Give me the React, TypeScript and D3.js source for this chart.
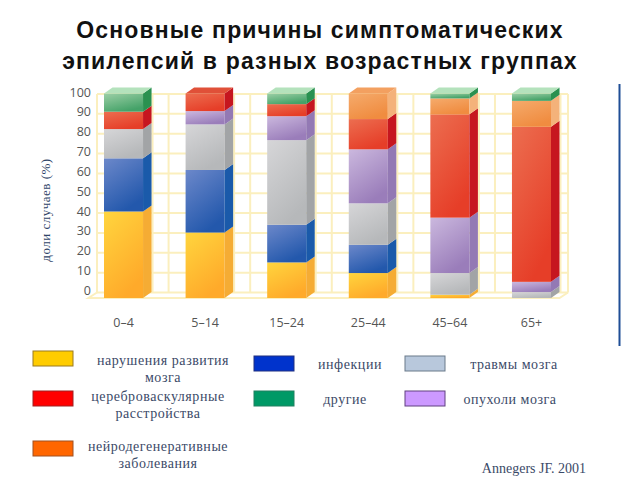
import * as d3 from 'd3'

const ageGroups = ['0–4', '5–14', '15–24', '25–44', '45–64', '65+']
const ticks = [0, 10, 20, 30, 40, 50, 60, 70, 80, 90, 100]

// share of cases per age group, bottom to top of each stack
const malformation = [42.3, 32, 17.4, 12.2, 1.6, 0]
const infection = [26, 30.6, 18.4, 13.8, 0, 0]
const trauma = [14.3, 22.3, 41.4, 20.3, 10.6, 2.9]
const tumor = [0, 6.5, 11.7, 26.4, 27.1, 5]
const vascular = [8.5, 8.6, 5.9, 14.8, 50.5, 75.8]
const degenerative = [0, 0, 0, 12.5, 7.8, 12.7]
const other = [8.9, 0, 5.2, 0, 2.4, 3.6]

const seriesKeys = ['malformation', 'infection', 'trauma', 'tumor', 'vascular', 'degenerative', 'other']
const seriesValues: Record<string, number[]> = { malformation, infection, trauma, tumor, vascular, degenerative, other }

const faceColors: Record<string, [string, string, string, string]> = {
  // front light, front dark, side, top
  malformation: ['#ffd53e', '#ffaa2a', '#f5ac34', '#ffcf50'],
  infection: ['#6c88ca', '#2358ac', '#1a5aaa', '#5c7cc0'],
  trauma: ['#d6d6d8', '#b6b8ba', '#a2a4a6', '#dcdcdc'],
  tumor: ['#cbb8de', '#9a7dba', '#9379b4', '#cdbbe0'],
  vascular: ['#ec6e50', '#e63e28', '#c6161f', '#e05038'],
  degenerative: ['#f5ab6c', '#f08c40', '#f4b27a', '#f3a060'],
  other: ['#9ccfa6', '#44a268', '#2a9150', '#b4e2bc'],
}

const legendLabels = [
  ['нарушения развития', 'мозга'],
  ['цереброваскулярные', 'расстройства'],
  ['нейродегенеративные', 'заболевания'],
  ['инфекции'],
  ['другие'],
  ['травмы мозга'],
  ['опухоли мозга'],
]
const legendColors = ['#ffcc00', '#ff0000', '#ff6600', '#0033cc', '#009966', '#b8c8dc', '#cc99ff']
const legendBorders = ['#9a7b20', '#a02020', '#a05020', '#203080', '#208060', '#6a7a8a', '#604080']
const legendBox = [[33, 351], [33, 391], [33, 441], [254, 356], [254, 391], [405, 356], [405, 391]]
const legendText = [[163, 365], [158, 401], [158, 451], [350, 369], [345, 404], [514, 369], [510, 404]]

const dx = 8.5
const dy = 6

export default function App() {
  const x = d3.scaleBand().domain(ageGroups).range([104, 551]).paddingInner(0.5215).paddingOuter(0)
  const y = d3.scaleLinear().domain([0, 100]).range([298, 93.5])
  const yGrid = d3.scaleLinear().domain([0, 100]).range([292.5, 94])

  const rows = ageGroups.map((g, i) => {
    const row: Record<string, any> = { group: g }
    seriesKeys.forEach(k => { row[k] = seriesValues[k][i] })
    return row
  })
  const stacked = d3.stack<any>().keys(seriesKeys)(rows)

  const bw = x.bandwidth()
  const gridLeft = 97
  const gridRight = 568
  const verticals = [gridLeft, gridRight]
  ageGroups.forEach((g, i) => {
    verticals.push(x(g)! + bw + dx + 1)
    if (i > 0) verticals.push(x(g)! - 17)
  })

  return (
    <svg width={640} height={480} style={{ position: 'absolute', left: 0, top: 0, background: '#fff' }}>
      <defs>
        {seriesKeys.map(k => (
          <linearGradient key={k} id={`front-${k}`} x1="0" y1="0" x2="0.5" y2="1">
            <stop offset="0" stopColor={faceColors[k][0]} />
            <stop offset="1" stopColor={faceColors[k][1]} />
          </linearGradient>
        ))}
      </defs>

      <g fontFamily="Liberation Sans" fontWeight="bold" fontSize={23} fill="#111" textAnchor="middle" letterSpacing={1.15}>
        <text x={320} y={38}>Основные причины симптоматических</text>
        <text x={320} y={69}>эпилепсий в разных возрастных группах</text>
      </g>

      {/* back wall */}
      <g stroke="#fbefbe" strokeWidth={2} fill="none">
        {ticks.map(t => (
          <line key={t} x1={gridLeft} x2={gridRight} y1={yGrid(t)} y2={yGrid(t)} />
        ))}
        {verticals.map(v => (
          <line key={v} x1={v} x2={v} y1={yGrid(100)} y2={yGrid(0)} />
        ))}
        <path d={`M${gridLeft},${yGrid(0)}L${gridLeft - dx},${y(0)}H${gridRight - dx}L${gridRight},${yGrid(0)}`} />
      </g>

      <g fontFamily="Open Sans" fontSize={12.5} fill="#555" textAnchor="end">
        {ticks.map(t => (
          <text key={t} x={91} y={yGrid(t) + 2.5}>{t}</text>
        ))}
      </g>

      {/* bars */}
      {ageGroups.map((g, i) => {
        const bx = x(g)!
        const layers = stacked.filter(s => s[i][1] > s[i][0])
        const top = layers[layers.length - 1]
        const yTop = y(top[i][1])
        return (
          <g key={g}>
            {layers.map(s => {
              const y0 = y(s[i][0])
              const y1 = y(s[i][1])
              const c = faceColors[s.key]
              return (
                <g key={s.key}>
                  <rect x={bx} y={y1} width={bw} height={y0 - y1} fill={`url(#front-${s.key})`} />
                  <polygon
                    points={`${bx + bw},${y0} ${bx + bw + dx},${y0 - dy} ${bx + bw + dx},${y1 - dy} ${bx + bw},${y1}`}
                    fill={c[2]}
                  />
                </g>
              )
            })}
            <polygon
              points={`${bx},${yTop} ${bx + dx},${yTop - dy} ${bx + bw + dx},${yTop - dy} ${bx + bw},${yTop}`}
              fill={faceColors[top.key][3]}
            />
          </g>
        )
      })}

      <g fontFamily="Open Sans" fontSize={12.5} fill="#555" textAnchor="middle">
        {ageGroups.map(g => (
          <text key={g} x={x(g)! + bw / 2} y={326.5}>{g}</text>
        ))}
      </g>

      <text
        transform="translate(50,210) rotate(-90)"
        textAnchor="middle"
        fontFamily="Liberation Serif"
        fontSize={13}
        letterSpacing={0.5}
        fill="#2f4468"
      >
        доли случаев (%)
      </text>

      <line x1={619.5} x2={619.5} y1={84} y2={346} stroke="#1f4e96" strokeWidth={2} />

      {/* legend */}
      {legendLabels.map((lines, i) => (
        <g key={i}>
          <rect
            x={legendBox[i][0]}
            y={legendBox[i][1]}
            width={40}
            height={15}
            fill={legendColors[i]}
            stroke={legendBorders[i]}
          />
          <g fontFamily="Liberation Serif" fontSize={14} fill="#3b4a68" textAnchor="middle" letterSpacing={0.55}>
            {lines.map((l, j) => (
              <text key={l} x={legendText[i][0]} y={legendText[i][1] + j * 17}>{l}</text>
            ))}
          </g>
        </g>
      ))}

      <text x={534} y={473} textAnchor="middle" fontFamily="Liberation Serif" fontSize={14} fill="#3b4a68">
        Annegers JF. 2001
      </text>
    </svg>
  )
}
